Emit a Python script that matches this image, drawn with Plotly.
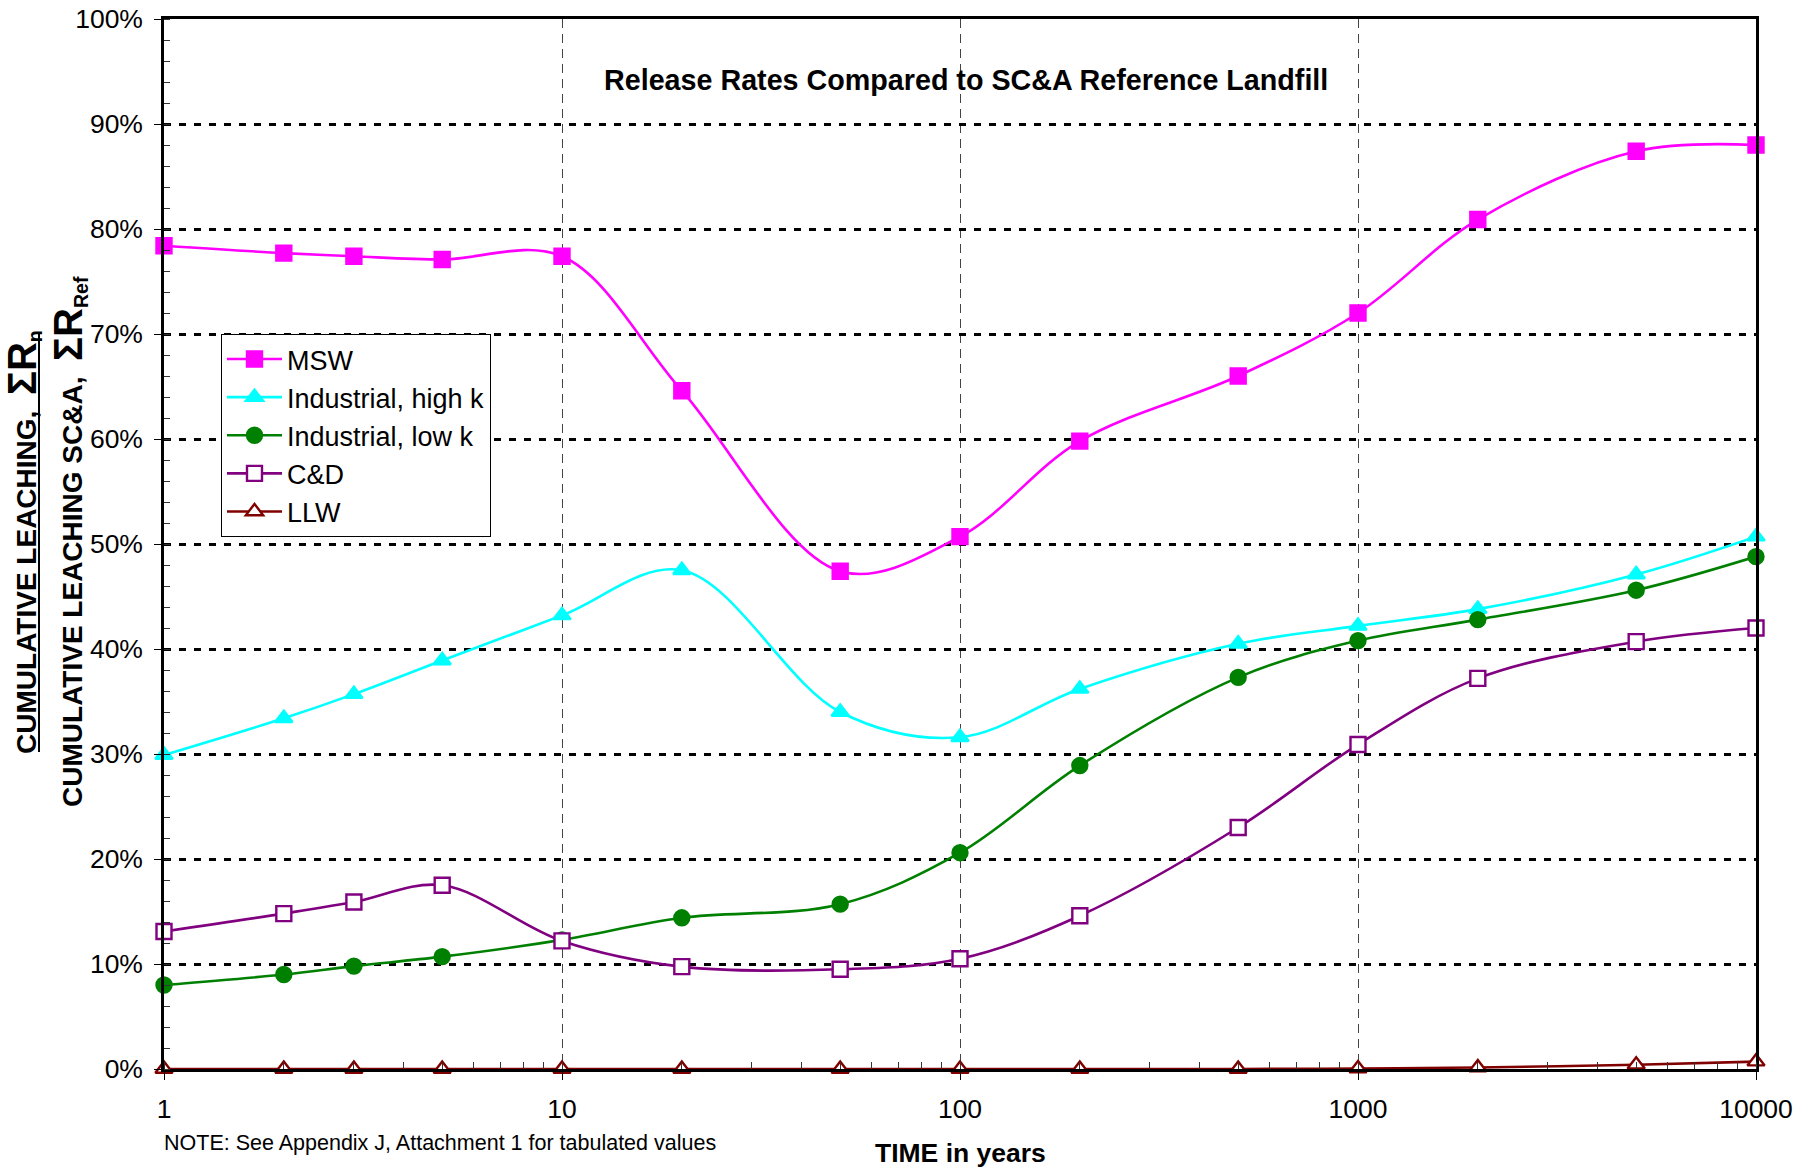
import plotly.graph_objects as go

# Time after closure (years)
years = [1, 2, 3, 5, 10, 20, 50, 100, 200, 500, 1000, 2000, 5000, 10000]

# Cumulative leaching relative to the SC&A reference landfill (%)
msw = [78.4, 77.7, 77.4, 77.1, 77.4, 64.6, 47.4, 50.7, 59.8, 66.0, 72.0, 80.9, 87.4, 88.0]
ind_high_k = [29.9, 33.4, 35.7, 38.9, 43.2, 47.5, 34.0, 31.6, 36.2, 40.5, 42.2, 43.8, 47.1, 50.7]
ind_low_k = [8.0, 9.0, 9.8, 10.7, 12.3, 14.4, 15.7, 20.6, 28.9, 37.3, 40.8, 42.8, 45.6, 48.8]
cd = [13.1, 14.8, 15.9, 17.5, 12.2, 9.75, 9.5, 10.5, 14.6, 23.0, 30.9, 37.2, 40.7, 42.0]
llw = [0, 0, 0, 0, 0, 0, 0, 0, 0, 0, 0.05, 0.15, 0.4, 0.7]

x_tickvals = [1, 10, 100, 1000, 10000]
x_ticktext = ["1", "10", "100", "1000", "10000"]

FONT = "Liberation Sans, Arial, sans-serif"

series = [
    dict(name="MSW", y=msw, color="#FF00FF", symbol="square", fill="#FF00FF", size=15),
    dict(name="Industrial, high k", y=ind_high_k, color="#00FFFF", symbol="triangle-up", fill="#00FFFF", size=15),
    dict(name="Industrial, low k", y=ind_low_k, color="#008000", symbol="circle", fill="#008000", size=15),
    dict(name="C&D", y=cd, color="#800080", symbol="square", fill="#FFFFFF", size=15),
    dict(name="LLW", y=llw, color="#800000", symbol="triangle-up", fill="#FFFFFF", size=15),
]

fig = go.Figure()
for i, s in enumerate(series):
    fig.add_trace(go.Scatter(
        x=years, y=s["y"], name=s["name"], mode="lines+markers",
        legendgroup=f"g{i}",
        line=dict(color=s["color"], width=2.6, shape="spline", smoothing=1.0),
        marker=dict(symbol=s["symbol"], size=s["size"], color=s["fill"],
                    line=dict(color=s["color"], width=2.4)),
        cliponaxis=False,
    ))

fig.update_layout(
    width=1816, height=1171,
    margin=dict(l=164, r=60, t=19, b=102),
    paper_bgcolor="white", plot_bgcolor="white",
    font=dict(family=FONT, size=26, color="black"),
    showlegend=True,
    legend=dict(
        x=0.0358, y=0.700, xanchor="left", yanchor="top",
        bgcolor="white", bordercolor="black", borderwidth=1,
        font=dict(family=FONT, size=27, color="black"),
        traceorder="grouped", tracegroupgap=0, itemwidth=55,
    ),
)

fig.update_xaxes(
    type="log", range=[0, 4], automargin=False,
    tickvals=x_tickvals, ticktext=x_ticktext,
    showline=True, linecolor="black", linewidth=2.5, mirror=True,
    ticks="outside", ticklen=8, tickcolor="black", tickwidth=1,
    ticklabelstandoff=6,
    showgrid=True, gridcolor="#444444", gridwidth=1.2, griddash="9px,6px",
    zeroline=False,
    minor=dict(ticks="inside", ticklen=7, tickcolor="#333333", tickwidth=1,
               dtick="D1", showgrid=False),
    tickfont=dict(size=26.5),
)

fig.update_yaxes(
    range=[0, 100], dtick=10, ticksuffix="%", automargin=False,
    showline=True, linecolor="black", linewidth=2.5, mirror=True,
    ticks="outside", ticklen=7, tickcolor="black", tickwidth=1,
    ticklabelstandoff=6,
    showgrid=True, gridcolor="black", gridwidth=3, griddash="7px,8px",
    zeroline=False,
    minor=dict(ticks="inside", ticklen=6, tickcolor="#333333", tickwidth=1,
               dtick=2, showgrid=False),
    tickfont=dict(size=26.5),
)

nb = "\u00a0"
big = "<span style='font-size:40px'>ΣR</span>"
line1 = f"<b>CUMULATIVE LEACHING,{nb*2}{big}<sub>n</sub></b>"
line2 = f"<b>CUMULATIVE LEACHING SC&A,{nb*2}{big}<sub>Ref</sub></b>"

fig.add_annotation(text=line1, textangle=-90, xref="paper", yref="paper",
                   x=(23 - 164) / 1592, y=0.502, xanchor="center", yanchor="middle",
                   showarrow=False, font=dict(family=FONT, size=28, color="black"))
fig.add_annotation(text=line2, textangle=-90, xref="paper", yref="paper",
                   x=(69 - 164) / 1592, y=0.502, xanchor="center", yanchor="middle",
                   showarrow=False, font=dict(family=FONT, size=28, color="black"))
# fraction bar under the numerator
fig.add_shape(type="line", xref="paper", yref="paper",
              x0=(39 - 164) / 1592, x1=(39 - 164) / 1592,
              y0=1 - (752 - 19) / 1050, y1=1 - (334 - 19) / 1050,
              line=dict(color="black", width=2))

fig.add_annotation(text="<b>Release Rates Compared to SC&A Reference Landfill</b>",
                   xref="paper", yref="paper", x=(966 - 164) / 1592, y=1 - (80 - 19) / 1050,
                   xanchor="center", yanchor="middle", showarrow=False,
                   font=dict(family=FONT, size=28.7, color="black"))
fig.add_annotation(text="<b>TIME in years</b>", xref="paper", yref="paper",
                   x=0.5, y=0, yshift=-84, xanchor="center", yanchor="middle",
                   showarrow=False, font=dict(family=FONT, size=26.5, color="black"))
fig.add_annotation(text="NOTE: See Appendix J, Attachment 1 for tabulated values",
                   xref="paper", yref="paper", x=0, y=0, xshift=-2, yshift=-74,
                   xanchor="left", yanchor="middle", showarrow=False,
                   font=dict(family=FONT, size=21.5, color="black"))

fig.write_html("out.html")
